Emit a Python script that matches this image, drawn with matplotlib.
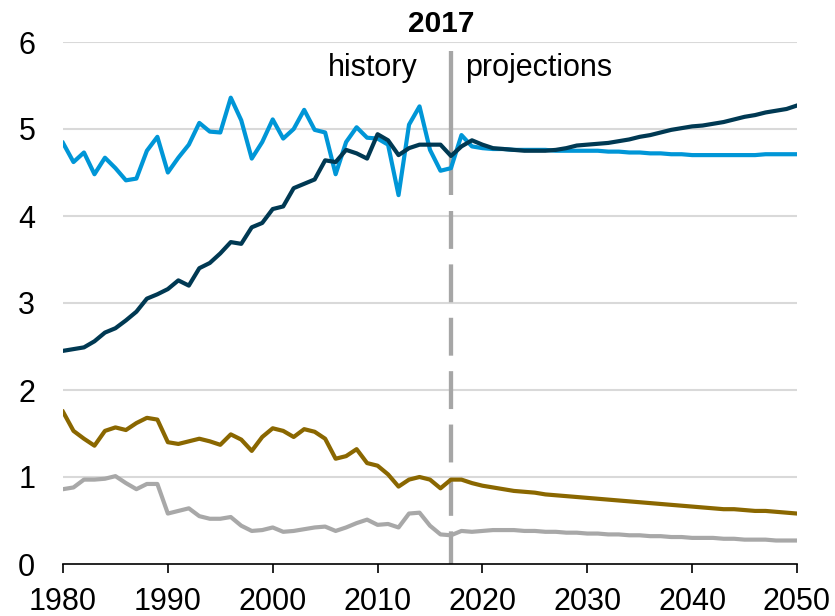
import numpy as np
import matplotlib
matplotlib.use("Agg")
import matplotlib.pyplot as plt

plt.rcParams['font.family'] = ['Liberation Sans', 'DejaVu Sans']

# years 1980-2050, history through 2017
years = np.arange(1980, 2051)
split_year = 2017

navy = [2.45, 2.47, 2.49, 2.56, 2.66, 2.71, 2.80, 2.90, 3.05, 3.10,
        3.16, 3.26, 3.20, 3.40, 3.46, 3.57, 3.70, 3.68, 3.87, 3.92,
        4.08, 4.11, 4.32, 4.37, 4.42, 4.64, 4.62, 4.76, 4.72, 4.66,
        4.94, 4.87, 4.70, 4.78, 4.82, 4.82, 4.82, 4.69,
        4.80, 4.87, 4.82, 4.78, 4.77, 4.76, 4.75, 4.75, 4.75, 4.76,
        4.78, 4.81, 4.82, 4.83, 4.84, 4.86, 4.88, 4.91, 4.93, 4.96,
        4.99, 5.01, 5.03, 5.04, 5.06, 5.08, 5.11, 5.14, 5.16, 5.19,
        5.21, 5.23, 5.27]

blue = [4.84, 4.62, 4.73, 4.48, 4.67, 4.55, 4.41, 4.43, 4.75, 4.91,
        4.50, 4.67, 4.82, 5.07, 4.97, 4.96, 5.36, 5.10, 4.66, 4.85,
        5.11, 4.89, 5.00, 5.22, 4.99, 4.96, 4.48, 4.85, 5.02, 4.90,
        4.89, 4.82, 4.24, 5.05, 5.26, 4.76, 4.52, 4.55,
        4.93, 4.80, 4.78, 4.77, 4.77, 4.76, 4.76, 4.76, 4.76, 4.75,
        4.75, 4.75, 4.75, 4.75, 4.74, 4.74, 4.73, 4.73, 4.72, 4.72,
        4.71, 4.71, 4.70, 4.70, 4.70, 4.70, 4.70, 4.70, 4.70, 4.71,
        4.71, 4.71, 4.71]

gold = [1.75, 1.53, 1.44, 1.36, 1.53, 1.57, 1.54, 1.62, 1.68, 1.66,
        1.40, 1.38, 1.41, 1.44, 1.41, 1.37, 1.49, 1.43, 1.30, 1.46,
        1.56, 1.53, 1.46, 1.55, 1.52, 1.44, 1.21, 1.24, 1.32, 1.16,
        1.13, 1.03, 0.89, 0.97, 1.00, 0.97, 0.87, 0.97,
        0.97, 0.93, 0.90, 0.88, 0.86, 0.84, 0.83, 0.82, 0.80, 0.79,
        0.78, 0.77, 0.76, 0.75, 0.74, 0.73, 0.72, 0.71, 0.70, 0.69,
        0.68, 0.67, 0.66, 0.65, 0.64, 0.63, 0.63, 0.62, 0.61, 0.61,
        0.60, 0.59, 0.58]

gray = [0.86, 0.88, 0.97, 0.97, 0.98, 1.01, 0.93, 0.86, 0.92, 0.92,
        0.58, 0.61, 0.64, 0.55, 0.52, 0.52, 0.54, 0.44, 0.38, 0.39,
        0.42, 0.37, 0.38, 0.40, 0.42, 0.43, 0.38, 0.42, 0.47, 0.51,
        0.45, 0.46, 0.42, 0.58, 0.59, 0.44, 0.34, 0.33,
        0.38, 0.37, 0.38, 0.39, 0.39, 0.39, 0.38, 0.38, 0.37, 0.37,
        0.36, 0.36, 0.35, 0.35, 0.34, 0.34, 0.33, 0.33, 0.32, 0.32,
        0.31, 0.31, 0.30, 0.30, 0.30, 0.29, 0.29, 0.28, 0.28, 0.28,
        0.27, 0.27, 0.27]

xticks = list(range(1980, 2051, 10))
yticks = list(range(0, 7))

fig = plt.figure(figsize=(8.35, 6.16), dpi=100)
ax = fig.add_axes([63 / 835, 52 / 616, 734 / 835, 522 / 616])

for y in yticks[1:]:
    ax.axhline(y, color='#d9d9d9', lw=1.5, zorder=0)

# history/projection divider: solid top piece, dashed below
divider = '#a6a6a6'
ax.plot([split_year, split_year], [5.90, 4.24], color=divider, lw=3.1,
        solid_capstyle='butt', zorder=1)
ax.plot([split_year, split_year], [4.06, 0], color=divider, lw=3.1,
        dashes=(8.8, 3.6), zorder=1)

ax.plot(years, gray, color='#a8a8a8', lw=3, zorder=2)
ax.plot(years, gold, color='#8a6700', lw=3, zorder=2)
ax.plot(years, blue, color='#0096d7', lw=3, zorder=3)
ax.plot(years, navy, color='#003953', lw=3, zorder=4)

ax.set_xlim(1980, 2050)
ax.set_ylim(0, 6)
ax.set_xticks(xticks)
ax.set_yticks(yticks)
ax.tick_params(axis='x', length=6.5, width=1.2, labelsize=22, pad=10)
ax.tick_params(axis='y', length=0, labelsize=22, pad=20)

for s in ['top', 'right', 'left']:
    ax.spines[s].set_visible(False)
ax.spines['bottom'].set_linewidth(1.2)

ax.text(2016.1, 6.21, '2017', ha='center', va='center', fontsize=21.5,
        fontweight='bold')
ax.text(2013.85, 5.61, 'history', ha='right', va='baseline', fontsize=22)
ax.text(2018.35, 5.61, 'projections', ha='left', va='baseline', fontsize=22)

fig.savefig('out.png', dpi=100)
